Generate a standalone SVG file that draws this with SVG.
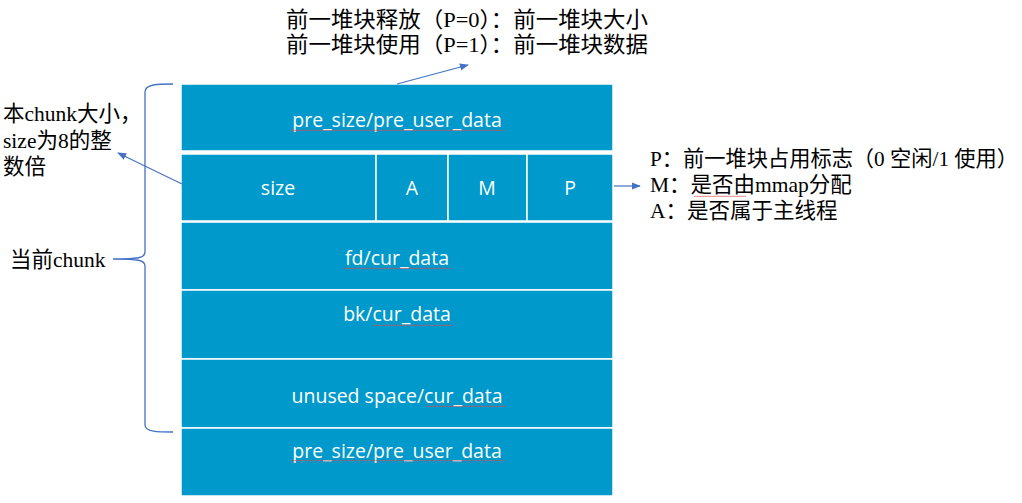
<svg xmlns="http://www.w3.org/2000/svg" width="1022" height="503" viewBox="0 0 1022 503">
<defs>
<style>
.cell{fill:#0099cb;stroke:#ffffff;stroke-width:1.5}
.in{font-family:"Open Sans","Noto Sans",sans-serif;font-size:19.5px;fill:#ffffff;text-anchor:middle}
.lbl{font-family:"Liberation Serif","Noto Sans CJK SC",serif;font-size:21.5px;fill:#000000}
.conn{fill:none;stroke:#4472c4;stroke-width:1.2}
.brace{fill:none;stroke:#4472c4;stroke-width:1.3}
</style>
<marker id="ah" viewBox="0 0 10 10" refX="9" refY="5" markerWidth="9" markerHeight="9" markerUnits="userSpaceOnUse" orient="auto">
<path d="M0,1 L10,5 L0,9 z" fill="#4472c4"/>
</marker>
<pattern id="wave" width="3" height="3" patternUnits="userSpaceOnUse">
<path d="M0,2 L0.75,0.8 L1.5,2 L2.25,0.8 L3,2" fill="none" stroke="#e04848" stroke-width="0.5"/>
</pattern>
</defs>
<rect width="1022" height="503" fill="#ffffff"/>

<g id="row-prev-size">
<rect class="cell" x="181" y="84" width="432" height="67"/>
<text class="in" x="397" y="127">pre_size/pre_user_data</text>
<rect x="290" y="129" width="215" height="3" fill="url(#wave)"/>
</g>

<g id="row-size">
<rect class="cell" x="181" y="154" width="195" height="67"/>
<rect class="cell" x="376" y="154" width="72" height="67"/>
<rect class="cell" x="448" y="154" width="79" height="67"/>
<rect class="cell" x="527" y="154" width="86" height="67"/>
<text class="in" x="278" y="195">size</text>
<text class="in" x="412" y="195">A</text>
<text class="in" x="487" y="195">M</text>
<text class="in" x="570" y="195">P</text>
</g>

<g id="row-fd">
<rect class="cell" x="181" y="222" width="432" height="68"/>
<text class="in" x="397" y="265">fd/cur_data</text>
<rect x="343" y="267" width="108" height="3" fill="url(#wave)"/>
</g>

<g id="row-bk">
<rect class="cell" x="181" y="290" width="432" height="69"/>
<text class="in" x="397" y="321">bk/cur_data</text>
<rect x="373" y="323" width="80" height="3" fill="url(#wave)"/>
</g>

<g id="row-unused">
<rect class="cell" x="181" y="359" width="432" height="69"/>
<text class="in" x="397" y="403">unused space/cur_data</text>
<rect x="426" y="405" width="80" height="3" fill="url(#wave)"/>
</g>

<g id="row-next-prev-size">
<rect class="cell" x="181" y="428" width="432" height="68"/>
<text class="in" x="397" y="458">pre_size/pre_user_data</text>
<rect x="290" y="460" width="215" height="3" fill="url(#wave)"/>
</g>

<g id="note-top">
<text class="lbl" x="286" y="27" textLength="362" lengthAdjust="spacingAndGlyphs">前一堆块释放（P=0）：前一堆块大小</text>
<text class="lbl" x="286" y="52" textLength="362" lengthAdjust="spacingAndGlyphs">前一堆块使用（P=1）：前一堆块数据</text>
</g>

<g id="note-left">
<text class="lbl" x="3" y="121">本chunk大小，</text>
<text class="lbl" x="3" y="148">size为8的整</text>
<text class="lbl" x="3" y="174">数倍</text>
</g>

<g id="note-chunk">
<text class="lbl" x="10" y="267">当前chunk</text>
</g>

<g id="note-right">
<text class="lbl" x="650" y="166" textLength="368" lengthAdjust="spacingAndGlyphs">P：前一堆块占用标志（0 空闲/1 使用）</text>
<text class="lbl" x="650" y="192">M：是否由mmap分配</text>
<rect x="694" y="194" width="52" height="3" fill="url(#wave)"/>
<text class="lbl" x="650" y="218">A：是否属于主线程</text>
</g>

<g id="connectors">
<path class="brace" d="M173,84 C158,84 145,84 145,92 L145,252 C145,258 138,259 113,259 C138,259 145,260 145,266 L145,425 C145,432 158,432 173,432"/>
<line class="conn" x1="182" y1="184" x2="118" y2="153" marker-end="url(#ah)"/>
<line class="conn" x1="397" y1="84" x2="468" y2="65" marker-end="url(#ah)"/>
<line class="conn" x1="614" y1="186" x2="640" y2="186" marker-end="url(#ah)"/>
</g>
</svg>
